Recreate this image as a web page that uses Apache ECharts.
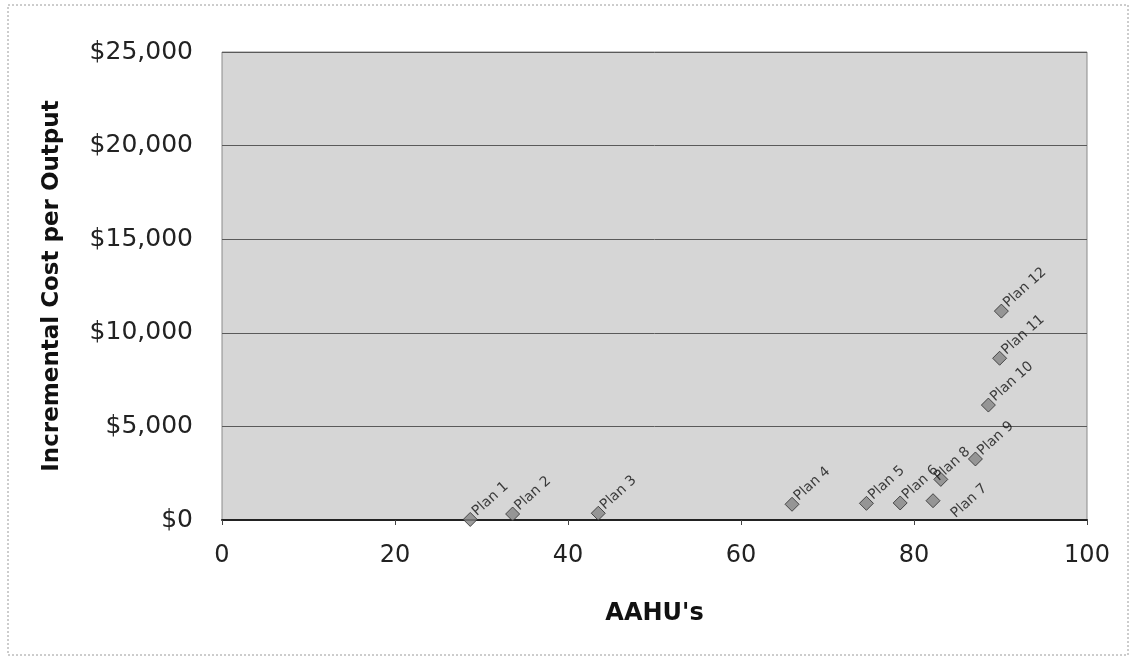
<!DOCTYPE html>
<html>
<head>
<meta charset="utf-8">
<script src="https://cdn.jsdelivr.net/npm/echarts@6/dist/echarts.min.js"></script>
<style>
  html, body { margin: 0; padding: 0; background: #fff; }
  #chart { width: 1135px; height: 662px; }
</style>
</head>
<body>
<div id="chart"></div>
<script>
var planNames = ['Plan 1', 'Plan 2', 'Plan 3', 'Plan 4', 'Plan 5', 'Plan 6',
                 'Plan 7', 'Plan 8', 'Plan 9', 'Plan 10', 'Plan 11', 'Plan 12'];
var aahu = [28.7, 33.6, 43.5, 65.9, 74.5, 78.4, 82.2, 83.1, 87.1, 88.6, 89.9, 90.1];
var costPerOutput = [30, 320, 360, 840, 890, 910, 1030, 2170, 3260, 6140, 8640, 11160];
var yTicks = [0, 5000, 10000, 15000, 20000, 25000];
var xTicks = [0, 20, 40, 60, 80, 100];

// label tweaks for the crowded points
var labelOffsets = { 'Plan 7': [-2, 18], 'Plan 8': [-10, -10] };

var chart = echarts.init(document.getElementById('chart'));

var points = planNames.map(function (name, i) {
  var item = { name: name, value: [aahu[i], costPerOutput[i]] };
  if (labelOffsets[name]) {
    item.label = { offset: labelOffsets[name] };
  }
  return item;
});

var option = {
  backgroundColor: '#ffffff',
  textStyle: { fontFamily: 'DejaVu Sans, Liberation Sans, sans-serif' },
  graphic: [{
    type: 'rect',
    shape: { x: 8, y: 5, width: 1120, height: 650 },
    style: { fill: 'none', stroke: '#9a9a9a', lineWidth: 1, lineDash: [2, 2] },
    silent: true
  }],
  grid: {
    left: 222, right: 48, top: 52, bottom: 142,
    show: true,
    backgroundColor: '#d6d6d6',
    borderColor: '#8a8a8a',
    borderWidth: 1
  },
  xAxis: {
    type: 'value',
    min: 0, max: 100, interval: 20,
    name: "AAHU's",
    nameLocation: 'middle',
    nameGap: 82,
    nameTextStyle: { fontSize: 24, fontWeight: 'bold', color: '#111' },
    axisLine: { onZero: false, lineStyle: { color: '#222', width: 2 } },
    axisTick: { show: true, length: 5, lineStyle: { color: '#444' } },
    axisLabel: {
      fontSize: 24, color: '#222', margin: 24,
      formatter: function (v) { return xTicks.indexOf(v) >= 0 ? String(v) : ''; }
    },
    splitLine: { show: false }
  },
  yAxis: {
    type: 'value',
    min: 0, max: 25000, interval: 5000,
    name: 'Incremental Cost per Output',
    nameLocation: 'middle',
    nameGap: 158,
    nameTextStyle: { fontSize: 23, fontWeight: 'bold', color: '#111' },
    axisLine: { show: false },
    axisTick: { show: false },
    axisLabel: {
      fontSize: 25, color: '#222', margin: 29,
      formatter: function (v) {
        return yTicks.indexOf(v) >= 0 ? '$' + v.toLocaleString('en-US') : '';
      }
    },
    splitLine: { show: true, lineStyle: { color: '#5a5a5a', width: 1 } }
  },
  series: [{
    type: 'scatter',
    symbol: 'diamond',
    symbolSize: 14,
    itemStyle: { color: '#858585', borderColor: '#2a2a2a', borderWidth: 1 },
    label: {
      show: true,
      formatter: '{b}',
      position: 'right',
      distance: 2,
      rotate: 42,
      fontSize: 14,
      color: '#111',
      offset: [0, -8]
    },
    data: points
  }]
};

chart.setOption(option);
</script>
</body>
</html>
